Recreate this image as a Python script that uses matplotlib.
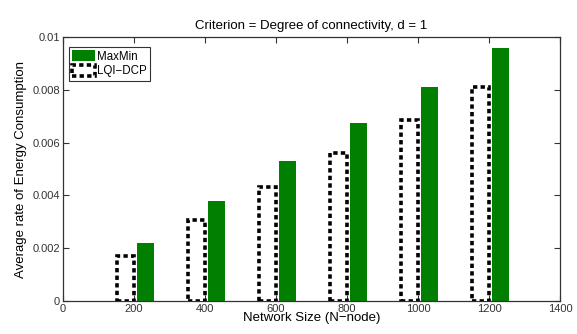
import numpy as np
import matplotlib.pyplot as plt

plt.rcParams['font.family'] = ['Liberation Sans', 'DejaVu Sans']

nodes = np.array([200, 400, 600, 800, 1000, 1200])
maxmin = np.array([0.0022, 0.0038, 0.0053, 0.00675, 0.0081, 0.0096])
lqi_dcp = np.array([0.0017, 0.00305, 0.0043, 0.0056, 0.00685, 0.0081])

xticks = [0, 200, 400, 600, 800, 1000, 1200, 1400]
yticks = [0, 0.002, 0.004, 0.006, 0.008, 0.01]
yticklabels = ['0', '0.002', '0.004', '0.006', '0.008', '0.01']

fig = plt.figure(figsize=(5.77, 3.34), dpi=100)
ax = fig.add_axes([0.109, 0.099, 0.862, 0.79])

w = 48
ax.bar(nodes + 32, maxmin, width=w, color='#007f00', edgecolor='none',
       label='MaxMin', zorder=2)
ax.bar(nodes - 25, lqi_dcp, width=w, facecolor='white', edgecolor='black',
       linewidth=2.6, linestyle=(0, (1.2, 0.9)), label='LQI\u2212DCP', zorder=3)

ax.set_xlim(0, 1400)
ax.set_ylim(0, 0.01)
ax.set_xticks(xticks)
ax.set_yticks(yticks)
ax.set_yticklabels(yticklabels)
ax.tick_params(direction='in', top=True, right=True, length=4, width=0.8,
               labelsize=8, colors='#333333', pad=2)
for s in ax.spines.values():
    s.set_linewidth(0.9)
    s.set_color('#333333')

ax.set_xlabel('Network Size (N\u2212node)', fontsize=9.5, labelpad=-1)
ax.set_ylabel('Average rate of Energy Consumption', fontsize=9.5, labelpad=4)
ax.set_title('Criterion = Degree of connectivity, d = 1', fontsize=9.5, pad=6)

leg = ax.legend(loc='upper left', fontsize=8.3, frameon=True, fancybox=False,
                edgecolor='black', borderpad=0.3, handlelength=2.0,
                handleheight=1.1, handletextpad=0.15, labelspacing=0.2,
                bbox_to_anchor=(0.0, 0.985), borderaxespad=0.5)
leg.get_frame().set_linewidth(0.8)

fig.savefig('out.png', dpi=100)
